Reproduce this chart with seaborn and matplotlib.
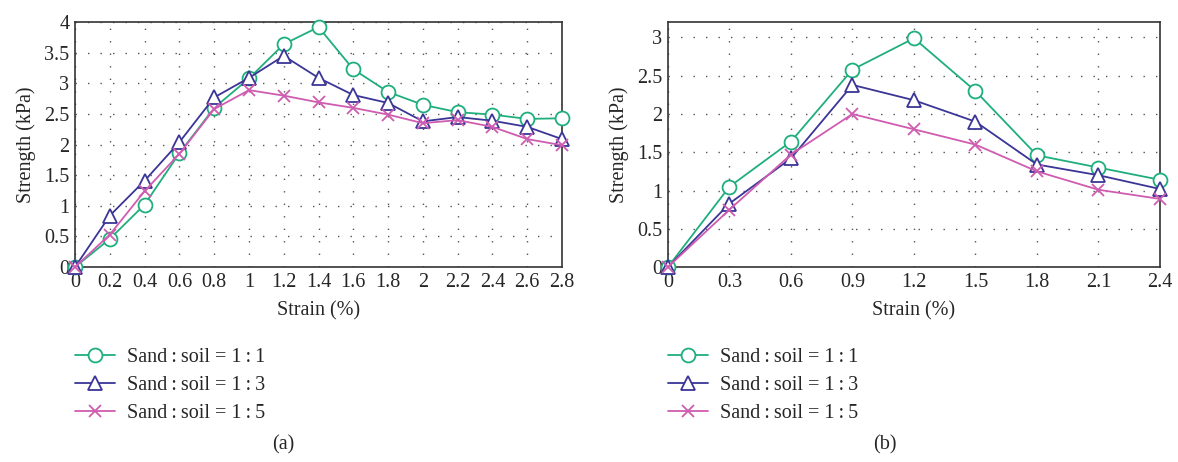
import matplotlib
matplotlib.use('Agg')
import matplotlib.pyplot as plt
import seaborn as sns
import pandas as pd

# strain values (%) for each panel
strain_a = [0, 0.2, 0.4, 0.6, 0.8, 1.0, 1.2, 1.4, 1.6, 1.8, 2.0, 2.2, 2.4, 2.6, 2.8]
strain_b = [0, 0.3, 0.6, 0.9, 1.2, 1.5, 1.8, 2.1, 2.4]

# strength (kPa), panel (a)
a_11 = [0, 0.46, 1.02, 1.86, 2.6, 3.08, 3.64, 3.92, 3.23, 2.86, 2.65, 2.53, 2.49, 2.42, 2.43]
a_13 = [0, 0.84, 1.41, 2.04, 2.77, 3.09, 3.45, 3.09, 2.81, 2.68, 2.38, 2.45, 2.39, 2.29, 2.09]
a_15 = [0, 0.53, 1.24, 1.85, 2.58, 2.89, 2.8, 2.69, 2.6, 2.49, 2.35, 2.4, 2.29, 2.09, 1.99]

# strength (kPa), panel (b)
b_11 = [0, 1.05, 1.64, 2.58, 2.99, 2.3, 1.46, 1.3, 1.14]
b_13 = [0, 0.83, 1.42, 2.38, 2.18, 1.9, 1.34, 1.2, 1.02]
b_15 = [0, 0.75, 1.47, 2.0, 1.8, 1.6, 1.25, 1.01, 0.89]

labels = ['Sand\u2009:\u2009soil = 1\u2009:\u20091',
          'Sand\u2009:\u2009soil = 1\u2009:\u20093',
          'Sand\u2009:\u2009soil = 1\u2009:\u20095']
colors = ['#1fae7e', '#3a3596', '#cf5cb0']
markers = ['o', '^', 'x']

sns.set_theme(style='white')
plt.rcParams['font.family'] = ['Liberation Serif', 'DejaVu Serif']
fs = 14.5

fig = plt.figure(figsize=(11.78, 4.62), dpi=100)
ax_a = fig.add_axes([0.0637, 0.422, 0.4134, 0.530])
ax_b = fig.add_axes([0.567, 0.422, 0.4177, 0.530])


def draw_panel(ax, x, series, xticks, yticks, ylim):
    for vals, lab, col, mk in zip(series, labels, colors, markers):
        df = pd.DataFrame({'strain': x, 'strength': vals})
        sns.lineplot(data=df, x='strain', y='strength', ax=ax, color=col, lw=1.3,
                     marker=mk, markersize=10 if mk != 'x' else 8,
                     mfc='white' if mk != 'x' else col, mec=col, mew=1.3,
                     label=lab, zorder=3, clip_on=False)
    ax.set_xlim(x[0], x[-1])
    ax.set_ylim(*ylim)
    ax.set_xticks(xticks)
    ax.set_yticks(yticks)
    ax.set_xticklabels([f'{t:g}' for t in xticks], fontsize=fs)
    ax.set_yticklabels([f'{t:g}' for t in yticks], fontsize=fs)
    ax.tick_params(length=0, pad=4)
    ax.grid(True, color='#555555', lw=1.0, linestyle=(0, (1, 8)))
    for s in ax.spines.values():
        s.set_color('#333333')
        s.set_linewidth(1.2)
    ax.set_xlabel('Strain (%)', fontsize=fs, labelpad=7)
    ax.set_ylabel('Strength (kPa)', fontsize=fs, labelpad=6)
    ax.legend(loc='upper left', bbox_to_anchor=(0.0, -0.331), frameon=False,
              fontsize=fs, handlelength=2.0, handletextpad=0.6, labelspacing=0.43,
              borderaxespad=0, borderpad=0)


draw_panel(ax_a, strain_a, [a_11, a_13, a_15], strain_a, [0, 0.5, 1, 1.5, 2, 2.5, 3, 3.5, 4], (0, 4))
draw_panel(ax_b, strain_b, [b_11, b_13, b_15], strain_b, [0, 0.5, 1, 1.5, 2, 2.5, 3], (0, 3.2))

fig.text(283 / 1178, 1 - 445 / 462, '(a)', ha='center', va='center', fontsize=fs)
fig.text(885 / 1178, 1 - 445 / 462, '(b)', ha='center', va='center', fontsize=fs)

fig.savefig('out.png', dpi=100)
